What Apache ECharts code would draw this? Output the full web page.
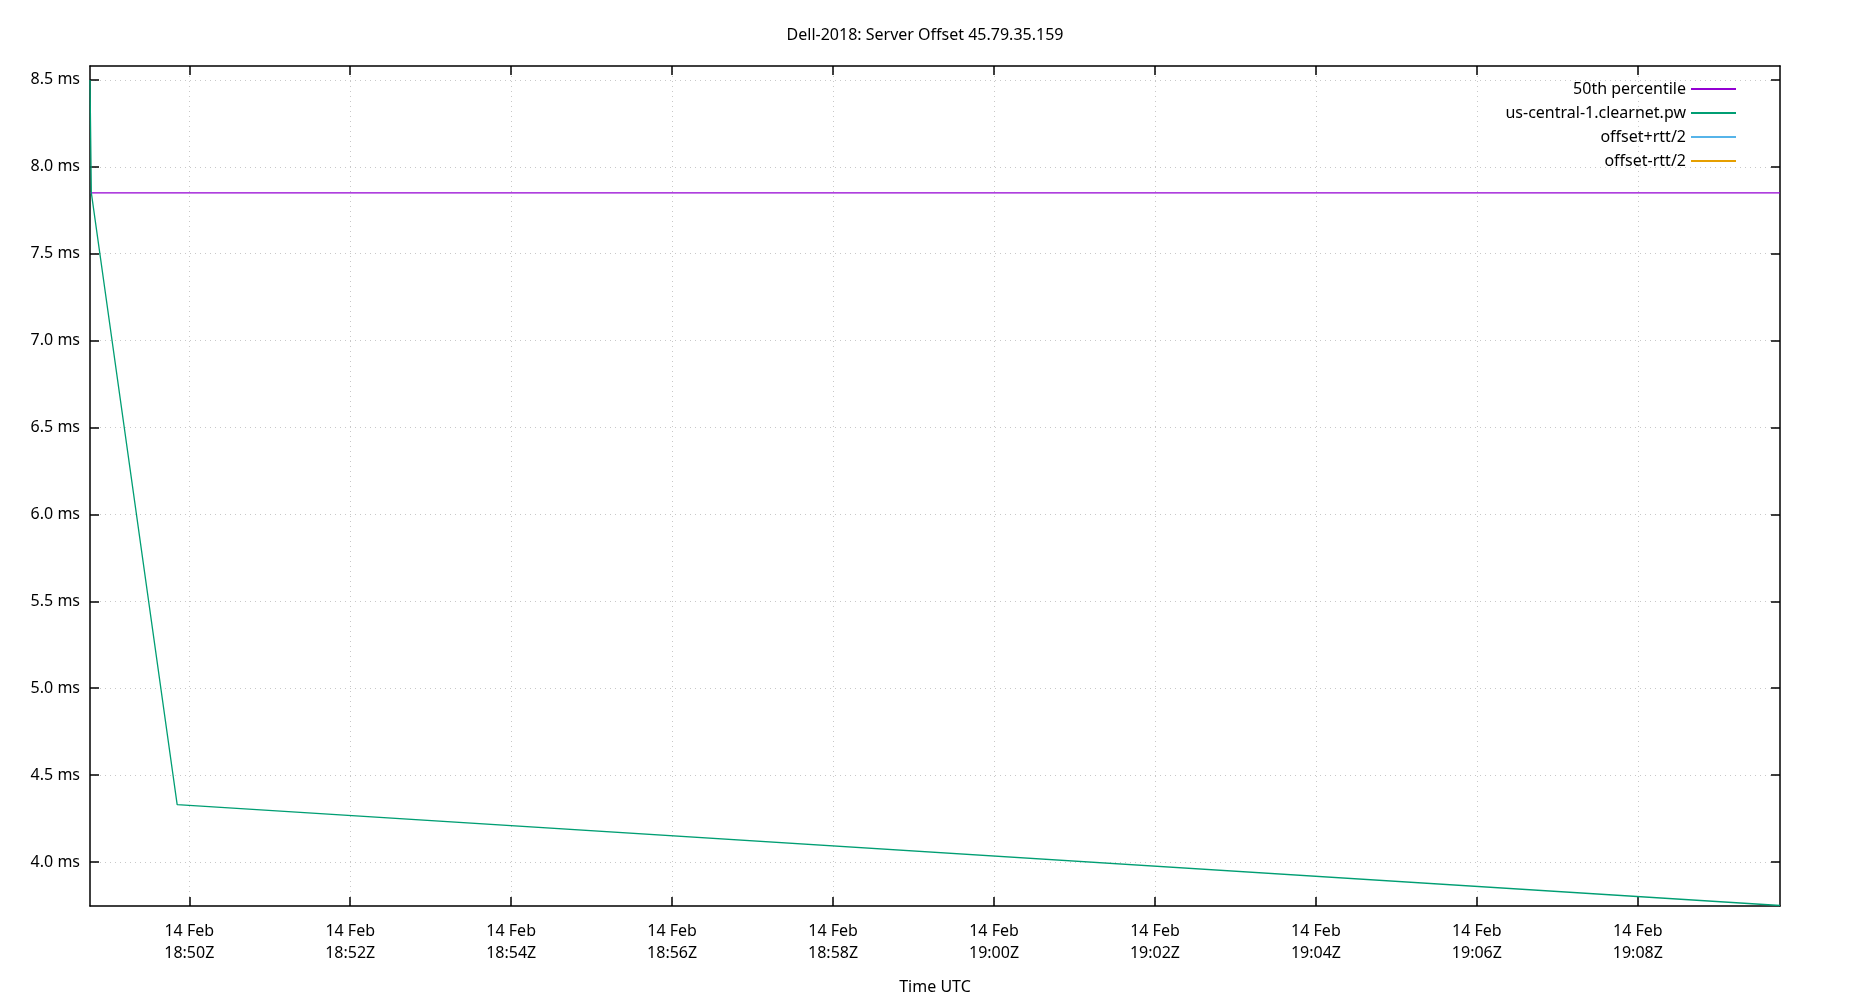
<!DOCTYPE html>
<html><head><meta charset="utf-8">
<script src="https://cdn.jsdelivr.net/npm/echarts@6/dist/echarts.min.js"></script>
<style>html,body{margin:0;padding:0;background:#fff}#c{width:1850px;height:1000px}</style>
</head><body><div id="c"></div>
<script>
const T = (h, m, s) => Date.UTC(2024, 1, 14, h, m, s || 0);
const offsetTimes = [T(18,48,46), T(18,48,47), T(18,49,51), T(19,9,46)];
const offsetValues = [8.5, 7.85, 4.33, 3.75];
const percentile50 = 7.85;
const xTicks = [T(18,50), T(18,52), T(18,54), T(18,56), T(18,58), T(19,0), T(19,2), T(19,4), T(19,6), T(19,8)];
const yTicks = [4.0, 4.5, 5.0, 5.5, 6.0, 6.5, 7.0, 7.5, 8.0, 8.5];
const xMin = T(18,48,46), xMax = T(19,9,46);
const yMin = 3.747, yMax = 8.58;

const font = 'Noto Sans';
const pad = n => String(n).padStart(2, '0');
const fmtX = v => { const d = new Date(v); return '14 Feb\n' + pad(d.getUTCHours()) + ':' + pad(d.getUTCMinutes()) + 'Z'; };
const grid = {left: 90, right: 70, top: 66, bottom: 93};
const lineIcon = 'path://M0,0 L45,0 L45,2 L0,2 Z';
const split = {show: true, lineStyle: {color: '#c8c8c8', type: [1, 4], width: 1}};
const axLine = {show: true, lineStyle: {color: '#000', width: 1.5}};
const xBase = {type: 'value', min: xMin, max: xMax, axisLine: axLine};
const yBase = {type: 'value', min: yMin, max: yMax, axisLine: axLine};

const chart = echarts.init(document.getElementById('c'));
chart.setOption({
  animation: false,
  backgroundColor: '#fff',
  title: {text: 'Dell-2018: Server Offset 45.79.35.159', left: 'center', top: 22,
    textStyle: {fontFamily: font, fontSize: 16, fontWeight: 'normal', color: '#000'}},
  legend: {orient: 'vertical', right: 109, top: 76, align: 'right', itemWidth: 45, itemHeight: 2, itemGap: 8,
    textStyle: {fontFamily: font, fontSize: 16, color: '#000'},
    data: ['50th percentile', 'us-central-1.clearnet.pw', 'offset+rtt/2', 'offset-rtt/2'].map(n => ({name: n, icon: lineIcon}))},
  grid: grid,
  xAxis: [
    Object.assign({}, xBase, {position: 'bottom', name: 'Time UTC', nameLocation: 'middle', nameGap: 73,
      nameTextStyle: {fontFamily: font, fontSize: 16, color: '#000'},
      axisTick: {show: true, inside: true, length: 9, customValues: xTicks, lineStyle: {color: '#000', width: 1.5}},
      axisLabel: {customValues: xTicks, formatter: fmtX, fontFamily: font, fontSize: 16, color: '#000', lineHeight: 22, margin: 14},
      splitLine: split}),
    Object.assign({}, xBase, {position: 'top',
      axisTick: {show: true, inside: true, length: 9, customValues: xTicks, lineStyle: {color: '#000', width: 1.5}},
      axisLabel: {show: false, customValues: xTicks}, splitLine: {show: false}})
  ],
  yAxis: [
    Object.assign({}, yBase, {position: 'left',
      axisTick: {show: true, inside: true, length: 9, customValues: yTicks, lineStyle: {color: '#000', width: 1.5}},
      axisLabel: {customValues: yTicks, formatter: v => v.toFixed(1) + ' ms', fontFamily: font, fontSize: 16, color: '#000', margin: 10},
      splitLine: split}),
    Object.assign({}, yBase, {position: 'right',
      axisTick: {show: true, inside: true, length: 9, customValues: yTicks, lineStyle: {color: '#000', width: 1.5}},
      axisLabel: {show: false, customValues: yTicks}, splitLine: {show: false}})
  ],
  series: [
    {name: '50th percentile', type: 'line', symbol: 'none', color: '#9400d3', lineStyle: {width: 1.3},
      data: [[xMin, percentile50], [xMax, percentile50]]},
    {name: 'us-central-1.clearnet.pw', type: 'line', symbol: 'none', color: '#009e73', lineStyle: {width: 1.3},
      data: offsetTimes.map((t, i) => [t, offsetValues[i]])},
    {name: 'offset+rtt/2', type: 'line', symbol: 'none', color: '#56b4e9', data: []},
    {name: 'offset-rtt/2', type: 'line', symbol: 'none', color: '#e69f00', data: []}
  ]
});
</script></body></html>
